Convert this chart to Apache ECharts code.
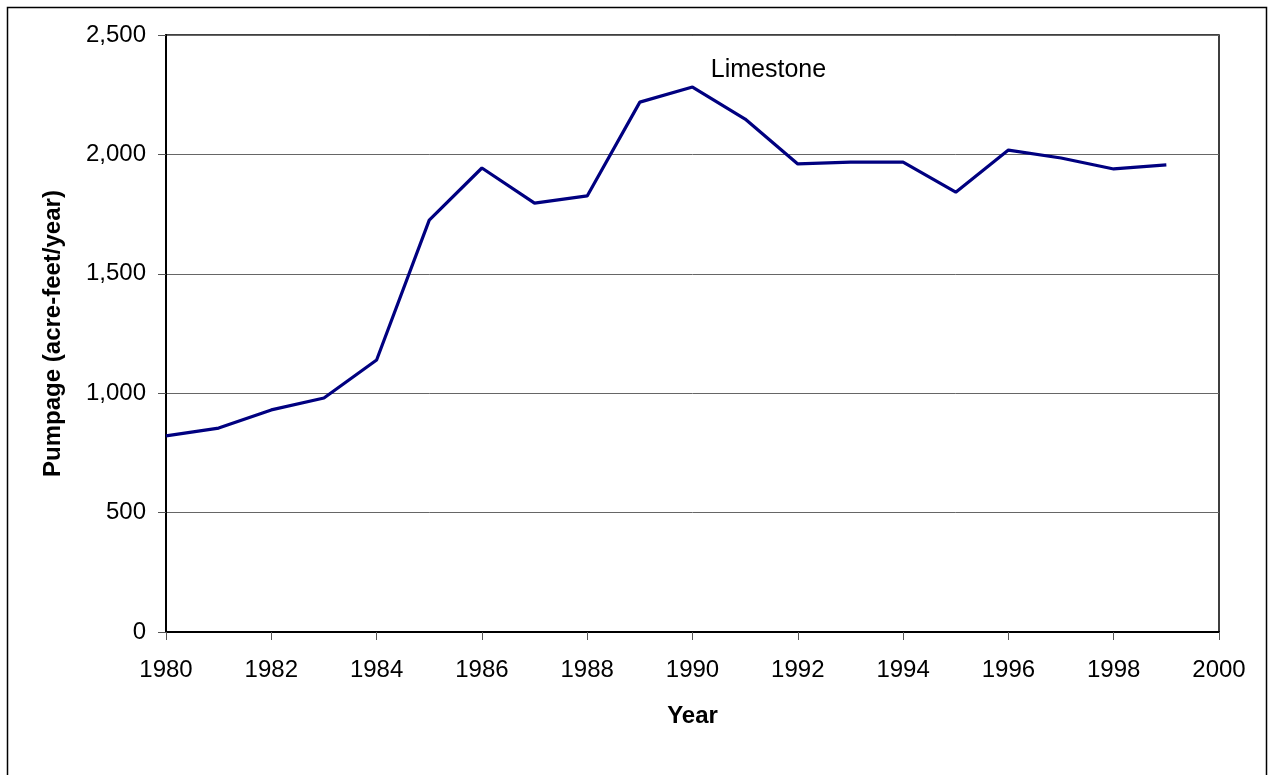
<!DOCTYPE html>
<html>
<head>
<meta charset="utf-8">
<script src="https://cdn.jsdelivr.net/npm/echarts@6/dist/echarts.min.js"></script>
<style>html,body{margin:0;padding:0;background:#fff}#c{width:1269px;height:775px}</style>
</head>
<body>
<div id="c"></div>
<script>
const years = [1980,1981,1982,1983,1984,1985,1986,1987,1988,1989,1990,1991,1992,1993,1994,1995,1996,1997,1998,1999];
const pumpage = [821,854,930,980,1139,1725,1943,1796,1826,2219,2282,2148,1960,1968,1968,1842,2018,1985,1939,1956];
const seriesLabel = 'Limestone';
const labelYear = 1990;

const chart = echarts.init(document.getElementById('c'), null, {renderer: 'canvas'});
const FONT = '"Liberation Sans", Arial, sans-serif';
const data = years.map((y, i) => [y, pumpage[i]]);
const labelIdx = years.indexOf(labelYear);
chart.setOption({
  animation: false,
  backgroundColor: '#fff',
  graphic: [{type: 'rect', shape: {x: 7.5, y: 7.5, width: 1259, height: 800},
    style: {fill: 'none', stroke: '#000', lineWidth: 1.5}, silent: true}],
  grid: {left: 166, top: 35, right: 50, bottom: 143, show: true, borderColor: '#000', borderWidth: 1.5, backgroundColor: 'transparent'},
  xAxis: {
    type: 'value', min: 1980, max: 2000, interval: 2,
    name: 'Year', nameLocation: 'middle', nameGap: 72,
    nameTextStyle: {fontSize: 24, fontWeight: 'bold', fontFamily: FONT, color: '#000'},
    axisLine: {onZero: false, lineStyle: {color: '#000', width: 2}},
    axisTick: {show: true, length: 8, lineStyle: {color: '#555'}},
    axisLabel: {margin: 26, fontSize: 24, fontFamily: FONT, color: '#000', formatter: v => String(v)},
    splitLine: {show: false}
  },
  yAxis: {
    type: 'value', min: 0, max: 2500, interval: 500,
    name: 'Pumpage (acre-feet/year)', nameLocation: 'middle', nameGap: 101,
    nameTextStyle: {fontSize: 24, fontWeight: 'bold', fontFamily: FONT, color: '#000'},
    axisLine: {show: true, lineStyle: {color: '#000', width: 2}},
    axisTick: {show: true, length: 8, lineStyle: {color: '#555'}},
    axisLabel: {margin: 20, fontSize: 24, fontFamily: FONT, color: '#000',
      formatter: v => v.toLocaleString('en-US')},
    splitLine: {show: true, lineStyle: {color: '#666', width: 1}}
  },
  series: [{
    type: 'line', data: data, showSymbol: false, symbol: 'none',
    lineStyle: {color: '#000080', width: 3.2}, itemStyle: {color: '#000080'},
    markPoint: {
      symbol: 'circle', symbolSize: 0, silent: true,
      data: [{coord: data[labelIdx], value: seriesLabel,
        label: {show: true, formatter: seriesLabel, position: 'top', offset: [76, 1],
          color: '#000', fontSize: 25, fontFamily: FONT}}]
    }
  }]
});
</script>
</body>
</html>
